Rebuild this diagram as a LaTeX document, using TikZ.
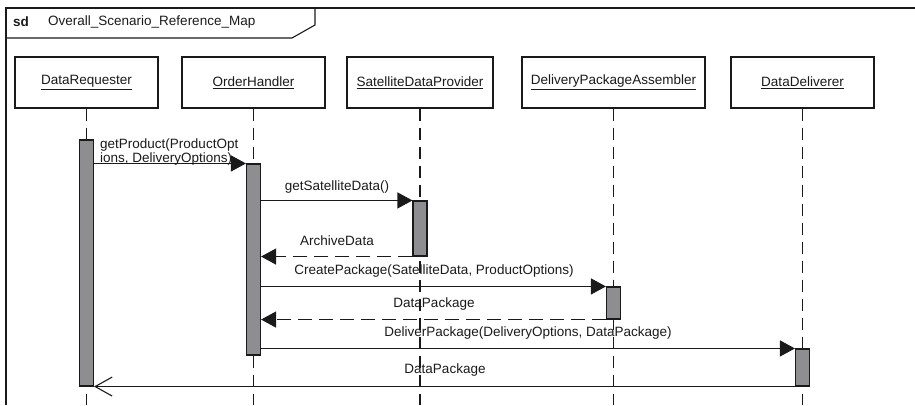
\documentclass[tikz,border=0pt]{standalone}
\usepackage{fontspec}
\setmainfont{Liberation Sans}
\usetikzlibrary{arrows.meta,calc}
\definecolor{ln}{HTML}{1A1A1A}
\definecolor{barfill}{HTML}{8E8E90}
\begin{document}
\begin{tikzpicture}[x=1pt,y=-1pt,
  every node/.style={font=\fontsize{13.5}{15}\selectfont, text=ln},
  objbox/.style={draw=ln, line width=1.1pt, minimum height=51pt, inner sep=0pt, fill=white},
  bar/.style={draw=ln, line width=1.1pt, fill=barfill, minimum width=14pt, inner sep=0pt},
  lifeline/.style={draw=ln, line width=1.1pt, dash pattern=on 12pt off 7pt},
  msg/.style={draw=ln, line width=1.1pt, -{Triangle[length=15pt,width=16pt]}},
  ret/.style={draw=ln, line width=1.1pt, dash pattern=on 14pt off 7pt, -{Triangle[length=15pt,width=16pt]}},
  reply/.style={draw=ln, line width=1.1pt, -{Straight Barb[length=17pt,width=19pt,line width=1.1pt]}},
  lbl/.style={inner sep=0pt}
]
\useasboundingbox (0,0) rectangle (915,405);
% frame
\draw[ln, line width=1.1pt] (915,8) -- (6,8) -- (6,405);
\draw[ln, line width=1.1pt] (6,38) -- (292,38) -- (315,25) -- (315,8);
\node[lbl, anchor=west, font=\fontsize{13.5}{15}\selectfont\bfseries] (sd) at (13,22) {sd};
\node[lbl, anchor=west] (title) at (48,22) {Overall\_Scenario\_Reference\_Map};

% objects
\node[objbox, minimum width=143pt] (o1) at (86.5,82.5) {\underline{DataRequester}};
\node[objbox, minimum width=143pt] (o2) at (253.5,82.5) {\underline{OrderHandler}};
\node[objbox, minimum width=146pt] (o3) at (420,82.5) {\underline{SatelliteDataProvider}};
\node[objbox, minimum width=183pt] (o4) at (613.5,82.5) {\underline{DeliveryPackageAssembler}};
\node[objbox, minimum width=143pt] (o5) at (802.5,82.5) {\underline{DataDeliverer}};

% lifeline ends
\coordinate (e1) at (86.5,405);
\coordinate (e2) at (253.5,405);
\coordinate (e3) at (420,405);
\coordinate (e4) at (613.5,405);
\coordinate (e5) at (802.5,405);
\draw[lifeline] (o1.south) -- (e1);
\draw[lifeline] (o2.south) -- (e2);
\draw[lifeline] (o3.south) -- (e3);
\draw[lifeline] (o4.south) -- (e4);
\draw[lifeline] (o5.south) -- (e5);

% activation bars
\node[bar, minimum height=246pt] (b1) at (86.5,263) {};
\node[bar, minimum height=191pt] (b2) at (253.5,259.5) {};
\node[bar, minimum height=55pt] (b3) at (420,228.5) {};
\node[bar, minimum height=32pt] (b4) at (613.5,303) {};
\node[bar, minimum height=37pt] (b5) at (802.5,367.5) {};

% messages
\draw[msg] (b1.east |- b2.north) -- (b2.north west);
\node[lbl, anchor=west, align=left, font=\fontsize{13.5}{12}\selectfont] (l1) at (100,152) {getProduct(ProductOpt\\ions, DeliveryOptions)};

\draw[msg] (b2.east |- b3.north) -- (b3.north west);
\node[lbl] (l2) at (337,187) {getSatelliteData()};

\draw[ret] (b3.south west) -- (b2.east |- b3.south);
\node[lbl] (l3) at (337,241) {ArchiveData};

\draw[msg] (b2.east |- b4.north) -- (b4.north west);
\node[lbl] (l4) at (434,271) {CreatePackage(SatelliteData, ProductOptions)};

\draw[ret] (b4.south west) -- (b2.east |- b4.south);
\node[lbl] (l5) at (434,304) {DataPackage};

\draw[msg] (b2.east |- b5.north) -- (b5.north west);
\node[lbl] (l6) at (528,333) {DeliverPackage(DeliveryOptions, DataPackage)};

\draw[reply] (b5.south west) -- (b1.east |- b5.south);
\node[lbl] (l7) at (445,370) {DataPackage};
\end{tikzpicture}
\end{document}
